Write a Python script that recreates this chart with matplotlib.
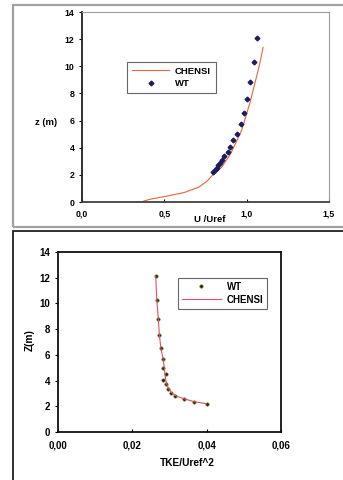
import matplotlib
matplotlib.use("Agg")
import matplotlib.pyplot as plt
from matplotlib.patches import Rectangle

plt.rcParams['font.family'] = ['Liberation Sans', 'DejaVu Sans']
plt.rcParams['font.weight'] = 'bold'

# top panel: mean velocity profile
u_chensi = [0.37, 0.41, 0.52, 0.62, 0.71, 0.76, 0.79, 0.85, 0.90, 0.94, 0.97, 0.995, 1.02, 1.045, 1.07, 1.087, 1.10]
z_chensi = [0.05, 0.2, 0.45, 0.7, 1.1, 1.55, 1.95, 2.6, 3.5, 4.5, 5.3, 6.3, 7.3, 8.5, 9.7, 10.6, 11.4]
u_wt = [1.064, 1.044, 1.02, 1.003, 0.985, 0.963, 0.939, 0.919, 0.902, 0.884, 0.862, 0.848, 0.838, 0.828, 0.818, 0.808, 0.797]
z_wt = [12.1, 10.3, 8.85, 7.6, 6.55, 5.72, 5.04, 4.55, 4.05, 3.69, 3.37, 3.07, 2.87, 2.70, 2.53, 2.38, 2.24]
top_xticks = [0.0, 0.5, 1.0, 1.5]
top_xticklabels = ['0,0', '0,5', '1,0', '1,5']

# bottom panel: turbulent kinetic energy profile
tke_wt = [0.0263, 0.0266, 0.0270, 0.0272, 0.0277, 0.0284, 0.0284, 0.0290, 0.0284, 0.0290, 0.0296, 0.0305, 0.0316, 0.0338, 0.0367, 0.0400]
zk_wt = [12.1, 10.3, 8.8, 7.55, 6.5, 5.7, 5.0, 4.5, 4.05, 3.7, 3.37, 3.06, 2.80, 2.60, 2.35, 2.2]
tke_chensi = [0.0263, 0.0266, 0.0270, 0.0273, 0.0277, 0.0283, 0.0286, 0.0288, 0.0290, 0.0293, 0.0298, 0.0306, 0.0318, 0.0338, 0.0367, 0.0400]
zk_chensi = [12.1, 10.3, 8.8, 7.55, 6.5, 5.7, 5.0, 4.5, 4.05, 3.7, 3.37, 3.06, 2.80, 2.60, 2.35, 2.2]
bot_xticks = [0.0, 0.02, 0.04, 0.06]
bot_xticklabels = ['0,00', '0,02', '0,04', '0,06']
yticks = [0, 2, 4, 6, 8, 10, 12, 14]

fig = plt.figure(figsize=(3.43, 4.8), dpi=100)

# panel frames
fig.patches.append(Rectangle((0.038, 0.527), 1.1, 0.463, transform=fig.transFigure,
                             fill=False, edgecolor='#a0a0a0', lw=1.6, zorder=0))
fig.patches.append(Rectangle((0.038, -0.1), 1.1, 0.619, transform=fig.transFigure,
                             fill=False, edgecolor='#202020', lw=1.3, zorder=0))

# ---- top
ax1 = fig.add_axes([0.239, 0.579, 0.720, 0.396])
ax1.plot(u_chensi, z_chensi, color='#e8653a', lw=0.8, label='CHENSI')
ax1.plot(u_wt, z_wt, ls='none', marker='D', ms=2.4, color='#1c1c5e', label='WT')
ax1.set_xlim(0, 1.5)
ax1.set_ylim(0, 14)
ax1.set_xticks(top_xticks)
ax1.set_xticklabels(top_xticklabels)
ax1.set_yticks(yticks)
ax1.tick_params(axis='x', direction='in', length=2.5, pad=5, labelsize=6.3)
ax1.tick_params(axis='y', direction='out', length=2.5, pad=3, labelsize=6.3)
ax1.spines['left'].set_color('#202020')
ax1.spines['bottom'].set_color('#404040')
ax1.spines['bottom'].set_linewidth(1.3)
ax1.spines['left'].set_linewidth(1.3)
ax1.spines['top'].set_color('#9a9a9a')
ax1.spines['right'].set_color('#9a9a9a')
ax1.set_xlabel('U /Uref', fontsize=6.8, fontweight='bold', va='center')
ax1.xaxis.set_label_coords(0.518, -0.09)
ax1.set_ylabel('z (m)', fontsize=6.8, fontweight='bold', rotation=0, va='center', ha='center')
ax1.yaxis.set_label_coords(-0.146, 0.42)
leg1 = ax1.legend(loc='upper left', bbox_to_anchor=(0.182, 0.737), borderaxespad=0,
                  fontsize=6.8, fancybox=False, handlelength=4, borderpad=0.5,
                  labelspacing=0.4, handletextpad=0.6)
leg1.get_frame().set_edgecolor('#404040')
leg1.get_frame().set_linewidth(0.8)

# ---- bottom
ax2 = fig.add_axes([0.169, 0.100, 0.650, 0.375])
ax2.plot(tke_wt, zk_wt, ls='none', marker='o', ms=2.5, markerfacecolor='#1a2a10',
         markeredgecolor='#7a8a30', markeredgewidth=0.4, label='WT')
ax2.plot(tke_chensi, zk_chensi, color='#e05068', lw=0.8, label='CHENSI')
ax2.set_xlim(0, 0.06)
ax2.set_ylim(0, 14)
ax2.set_xticks(bot_xticks)
ax2.set_xticklabels(bot_xticklabels)
ax2.set_yticks(yticks)
ax2.tick_params(axis='x', direction='in', length=2.5, pad=6, labelsize=7)
ax2.tick_params(axis='y', direction='out', length=2.5, pad=3, labelsize=7)
for s in ax2.spines.values():
    s.set_color('#101010')
    s.set_linewidth(1.3)
ax2.set_xlabel('TKE/Uref^2', fontsize=7.3, fontweight='bold', va='center')
ax2.xaxis.set_label_coords(0.578, -0.172)
ax2.set_ylabel('Z(m)', fontsize=7.3, fontweight='bold', va='center', ha='center')
ax2.yaxis.set_label_coords(-0.126, 0.51)
leg2 = ax2.legend(loc='upper left', bbox_to_anchor=(0.538, 0.856), borderaxespad=0,
                  fontsize=7, fancybox=False, handlelength=4, borderpad=0.4,
                  labelspacing=0.3, handletextpad=0.6)
leg2.get_frame().set_edgecolor('#404040')
leg2.get_frame().set_linewidth(0.8)

fig.savefig('out.png', dpi=100)
